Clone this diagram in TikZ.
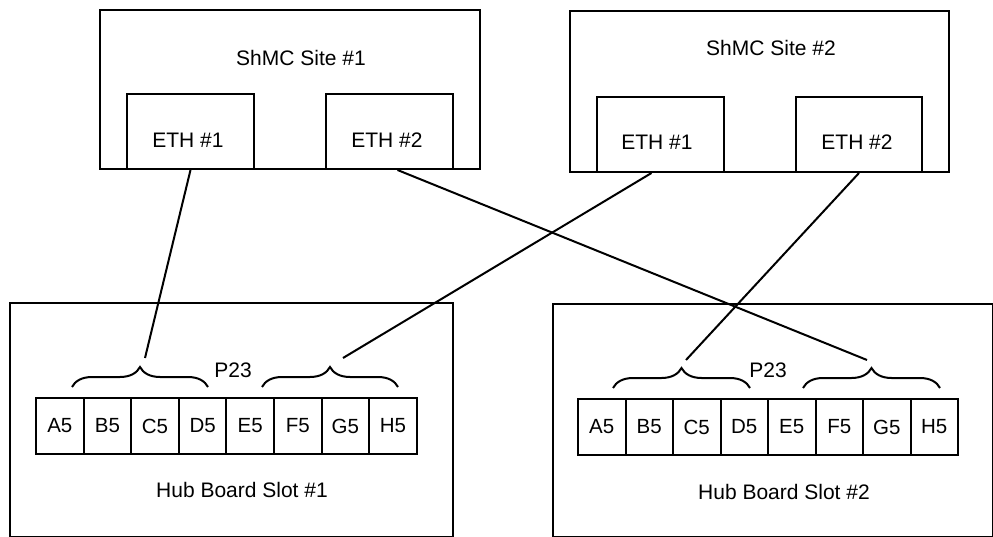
\documentclass[tikz,border=0pt]{standalone}
\usepackage{fontspec}
\setmainfont{Liberation Sans}
\usetikzlibrary{decorations.pathreplacing,calc}
\begin{document}
\begin{tikzpicture}[x=1pt,y=-1pt,
  box/.style={draw,line width=2pt,anchor=north west,inner sep=0pt},
  pin/.style={draw,line width=2pt,anchor=north west,inner sep=0pt,minimum height=56pt,font=\fontsize{20.5}{24}\selectfont},
  lbl/.style={font=\fontsize{21}{25}\selectfont,inner sep=0pt},
  wire/.style={line width=2pt},
  brc/.style={line width=2pt,decorate,decoration={brace,amplitude=20pt}}]
\useasboundingbox (0,0) rectangle (993,537);
% ShMC sites
\node[box,minimum width=380pt,minimum height=159pt] (s1) at (99,9) {};
\node[box,minimum width=127pt,minimum height=75pt] (e11) at (126,93) {};
\node[box,minimum width=127pt,minimum height=75pt] (e12) at (325,93) {};
\node[lbl] (s1t) at (301,58) {ShMC Site \#1};
\node[lbl] (e11t) at (188,140) {ETH \#1};
\node[lbl] (e12t) at (387,140) {ETH \#2};
\node[box,minimum width=379pt,minimum height=161pt] (s2) at (569,10) {};
\node[box,minimum width=127pt,minimum height=75pt] (e21) at (596,96) {};
\node[box,minimum width=126pt,minimum height=75pt] (e22) at (795,96) {};
\node[lbl] (s2t) at (771,48) {ShMC Site \#2};
\node[lbl] (e21t) at (657,142) {ETH \#1};
\node[lbl] (e22t) at (857,142) {ETH \#2};
% Hub boards
\node[box,minimum width=443pt,minimum height=234pt] (h1) at (9,302) {};
\node[box,minimum width=440pt,minimum height=233pt] (h2) at (552,303) {};
\foreach \l [count=\i from 0] in {A,B,C,D,E,F,G,H}{
  \node[pin,minimum width=47.6pt] (p1\l) at (35+47.6*\i,397) {\l5};
  \node[pin,minimum width=47.5pt] (p2\l) at (577+47.5*\i,398) {\l5};
}
\node[lbl] (h1t) at (242,490) {Hub Board Slot \#1};
\node[lbl] (h2t) at (784,492) {Hub Board Slot \#2};
\node[lbl] (p1t) at (233,370) {P23};
\node[lbl] (p2t) at (768,370) {P23};
% braces
\coordinate (b1la) at (72,387); \coordinate (b1lb) at (208,387);
\coordinate (b1ra) at (262,387); \coordinate (b1rb) at (398,387);
\coordinate (b2la) at (613,388); \coordinate (b2lb) at (750,388);
\coordinate (b2ra) at (803,388); \coordinate (b2rb) at (940,388);
\draw[brc] (b1la) -- (b1lb);
\draw[brc] (b1ra) -- (b1rb);
\draw[brc] (b2la) -- (b2lb);
\draw[brc] (b2ra) -- (b2rb);
% wire ends above brace tips
\coordinate (t1l) at (145,358);
\coordinate (t1r) at (343,358);
\coordinate (t2l) at (686,360);
\coordinate (t2r) at (867,360);
\draw[wire] (e11.south) -- (t1l);
\draw[wire] ($(e12.south)+(8,0)$) -- (t2r);
\draw[wire] ($(e21.south)+(-9,0)$) -- (t1r);
\draw[wire] (e22.south) -- (t2l);
\end{tikzpicture}
\end{document}
